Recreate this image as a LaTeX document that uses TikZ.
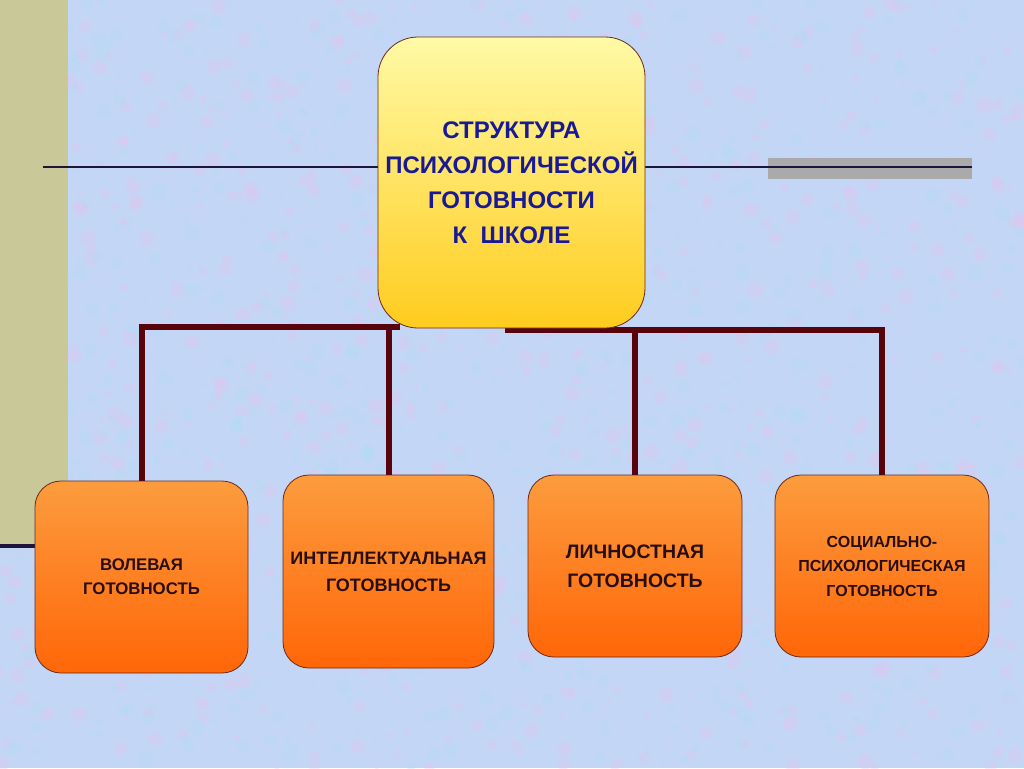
\documentclass[tikz,border=0pt]{standalone}
\usepackage{fontspec}
\setmainfont{Liberation Sans}
\definecolor{bgblue}{RGB}{196,214,245}
\definecolor{bgpink}{RGB}{226,196,238}
\definecolor{bgcyan}{RGB}{176,220,246}
\definecolor{strip}{RGB}{200,200,152}
\definecolor{maroon}{RGB}{88,4,12}
\definecolor{navyline}{RGB}{30,20,60}
\definecolor{barshade}{RGB}{170,170,170}
\definecolor{ytop}{RGB}{255,250,165}
\definecolor{ybot}{RGB}{255,204,30}
\definecolor{otop}{RGB}{252,156,62}
\definecolor{obot}{RGB}{255,102,8}
\definecolor{boxedge}{RGB}{110,40,25}
\definecolor{titleblue}{RGB}{25,25,150}
\definecolor{boxtext}{RGB}{40,14,14}
\tikzset{
  mainbox/.style={draw=boxedge, line width=0.8pt, rounded corners=40pt,
    top color=ytop, bottom color=ybot, inner sep=0pt, align=center,
    text=titleblue, font=\fontsize{24}{35}\selectfont\bfseries},
  subbox/.style={draw=boxedge, line width=0.8pt, rounded corners=26pt,
    top color=otop, bottom color=obot, inner sep=0pt, align=center,
    text=boxtext},
  link/.style={draw=maroon, line width=6pt}
}
\begin{document}
\begin{tikzpicture}[x=1pt,y=-1pt]
\useasboundingbox (0,0) rectangle (1024,768);
% background
\fill[bgblue] (0,0) rectangle (1024,768);
\pgfmathsetseed{11}
\foreach \i in {1,...,1600}{
  \pgfmathsetmacro\px{rnd*1024}
  \pgfmathsetmacro\py{rnd*768}
  \pgfmathsetmacro\pr{2+rnd*6}
  \pgfmathsetmacro\pc{rnd}
  \ifdim\pc pt<0.5pt
    \fill[bgpink, fill opacity=0.3] (\px,\py) circle[radius=\pr];
  \else
    \fill[bgcyan, fill opacity=0.3] (\px,\py) circle[radius=\pr];
  \fi
}
% left strip
\fill[strip] (0,0) rectangle (68,545);
\draw[navyline, line width=4pt] (0,546) -- (36,546);
% gray bar and thin line
\fill[barshade] (768,158) rectangle (972,179);
\coordinate (hl) at (43,167);
\coordinate (hr) at (972,167);
\draw[navyline, line width=1.5pt] (hl) -- (hr);
% connector junctions
\coordinate (jl) at (400,327);
\coordinate (jr) at (505,330);
% sub boxes
\node[subbox, minimum width=213pt, minimum height=192pt,
  font=\fontsize{16.8}{24}\selectfont\bfseries] (b1) at (141.5,577) {ВОЛЕВАЯ\\ГОТОВНОСТЬ};
\node[subbox, minimum width=211pt, minimum height=193pt,
  font=\fontsize{18}{27}\selectfont\bfseries] (b2) at (388.5,571.5) {ИНТЕЛЛЕКТУАЛЬНАЯ\\ГОТОВНОСТЬ};
\node[subbox, minimum width=214pt, minimum height=182pt,
  font=\fontsize{19.5}{29}\selectfont\bfseries] (b3) at (635,566) {ЛИЧНОСТНАЯ\\ГОТОВНОСТЬ};
\node[subbox, minimum width=214pt, minimum height=182pt,
  font=\fontsize{16}{24.5}\selectfont\bfseries] (b4) at (882,566) {СОЦИАЛЬНО-\\ПСИХОЛОГИЧЕСКАЯ\\ГОТОВНОСТЬ};
% connectors
\draw[link] (b1.north) |- (jl);
\draw[link] (b2.north) -- (b2.north |- jl);
\draw[link] (b3.north) |- (jr);
\draw[link] (b4.north) |- (jr);
% main box
\node[mainbox, minimum width=267pt, minimum height=291pt] (top) at (511.5,182.5)
  {СТРУКТУРА\\ПСИХОЛОГИЧЕСКОЙ\\ГОТОВНОСТИ\\К\ \ ШКОЛЕ};
\end{tikzpicture}
\end{document}
